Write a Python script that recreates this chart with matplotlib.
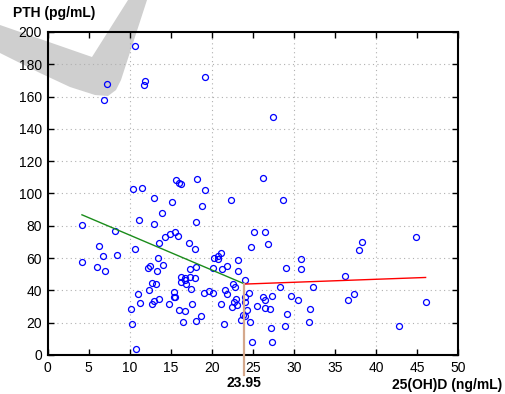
import matplotlib
matplotlib.use('Agg')
from matplotlib import pyplot as plt

plt.rcParams['font.family'] = ['Liberation Sans', 'DejaVu Sans']

# 25(OH)D (ng/mL) vs PTH (pg/mL)
vitd = [10.6, 7.18, 6.9, 11.9, 11.77, 19.2, 27.48, 10.39, 11.49, 15.58,
        15.99, 16.3, 18.18, 19.2, 26.26, 12.99, 15.18, 18.79, 22.36, 28.69,
        13.88, 11.08, 12.9, 18.02, 4.18, 8.2, 14.25, 14.89, 15.5, 15.9,
        13.6, 17.2, 18.0, 25.2, 26.5, 24.8, 26.9, 6.2, 6.7, 8.48,
        4.18, 6.0, 7.02, 10.6, 13.5, 12.18, 12.5, 13.27, 14.08, 12.7,
        12.38, 13.19, 13.6, 12.99, 12.7, 11.0, 11.24, 10.1, 10.27, 10.8,
        14.77, 15.34, 15.42, 15.5, 16.0, 16.68, 16.5, 16.23, 16.23, 16.72,
        16.84, 17.4, 17.3, 17.98, 18.1, 17.5, 17.58, 18.1, 18.67, 19.08,
        19.68, 20.2, 20.1, 20.3, 20.7, 20.74, 21.1, 21.3, 21.8, 23.2,
        23.2, 22.57, 22.8, 21.6, 21.9, 21.1, 21.5, 22.5, 22.7, 23.0,
        23.1, 23.99, 23.99, 24.1, 24.5, 24.27, 23.86, 24.0, 23.58, 24.6,
        24.9, 25.5, 26.26, 26.46, 27.4, 26.5, 27.1, 28.37, 27.19, 27.4,
        28.9, 29.18, 29.1, 29.7, 30.48, 30.9, 30.9, 32.39, 31.98, 31.86,
        36.28, 36.65, 37.38, 37.95, 38.27, 44.85, 46.06, 42.86, 16.7]
pth = [191.1, 167.8, 157.7, 169.9, 167.2, 172.2, 147.6, 102.9, 103.5, 108.5,
       106.4, 106.0, 108.9, 102.3, 109.7, 97.1, 94.6, 92.2, 95.7, 96.1,
       88.2, 83.7, 81.4, 82.5, 80.4, 76.7, 73.2, 75.1, 76.1, 73.6,
       69.1, 69.3, 65.6, 76.3, 76.3, 66.8, 68.9, 67.4, 61.4, 62.1,
       57.7, 54.6, 52.0, 65.8, 60.0, 53.8, 54.8, 52.2, 55.7, 44.3,
       40.4, 43.7, 34.6, 33.4, 31.5, 37.9, 32.0, 28.7, 19.4, 3.5,
       31.8, 39.0, 36.2, 35.6, 27.6, 27.4, 20.6, 48.2, 45.2, 46.4,
       43.9, 48.2, 53.2, 47.4, 54.6, 41.0, 31.3, 21.2, 24.3, 38.1,
       39.6, 38.1, 54.0, 60.2, 61.2, 59.6, 63.3, 53.2, 55.3, 59.0,
       52.2, 44.1, 42.3, 40.0, 37.7, 31.8, 19.0, 29.9, 33.0, 34.4,
       30.7, 46.4, 32.8, 36.1, 38.1, 28.0, 24.9, 24.3, 21.6, 20.4,
       8.2, 30.3, 35.7, 34.2, 36.5, 28.9, 28.5, 41.9, 16.9, 8.2,
       17.7, 25.4, 53.8, 36.7, 34.0, 59.6, 53.2, 42.1, 28.7, 20.2,
       48.9, 34.0, 37.9, 65.2, 69.9, 73.0, 32.8, 17.9, 47.4]

# segmented regression
breakpoint = 23.95
green_x = [4.18, breakpoint]
green_y = [86.8, 44.1]
red_x = [breakpoint, 46.06]
red_y = [43.9, 48.0]

fig = plt.figure(figsize=(5.06, 3.94), dpi=100)

# background axes in pixel units for the grey check-mark watermark
bg = fig.add_axes([0, 0, 1, 1], zorder=-5)
bg.set_xlim(0, 506)
bg.set_ylim(394, 0)
bg.axis('off')
mark_x = [0, 92, 128, 147, 121, 116, 108, 95, 70, 40, 0]
mark_y = [25, 57, 0, 0, 80, 90, 96, 95, 87, 73, 53]
bg.fill(mark_x, mark_y, color='#cfcfcf', lw=0)

ax = fig.add_axes([0.0942, 0.099, 0.8108, 0.8198])
ax.patch.set_visible(False)

for gx in [10, 20, 30, 40]:
    ax.axvline(gx, color='#b0b0b0', linestyle=(0, (1, 3)), linewidth=0.8, zorder=1)
for gy in range(20, 200, 20):
    ax.axhline(gy, color='#b0b0b0', linestyle=(0, (1, 3)), linewidth=0.8, zorder=1)

ax.plot(vitd, pth, 'o', mfc='none', mec='#0000ff', ms=4.3, mew=0.9, zorder=3)
ax.plot(green_x, green_y, color='#1a8c1a', lw=1.0, zorder=4)
ax.plot(red_x, red_y, color='#ff0000', lw=1.0, zorder=4)
ax.plot([breakpoint, breakpoint], [green_y[1], -12.5], color='#d4a88c', lw=1.6,
        clip_on=False, zorder=4)

ax.set_xlim(0, 50)
ax.set_ylim(0, 200)
ax.set_xticks(range(0, 51, 5))
ax.set_yticks(range(0, 201, 20))
ax.tick_params(direction='in', length=4, width=1, top=True, right=True,
               labelsize=10, colors='black', pad=4)
for s in ax.spines.values():
    s.set_linewidth(1.5)

fig.text(13 / 506, 1 - 13 / 394, 'PTH (pg/mL)', fontsize=10, fontweight='bold',
         ha='left', va='center')
fig.text(502 / 506, 1 - 385 / 394, '25(OH)D (ng/mL)', fontsize=10,
         fontweight='bold', ha='right', va='center')
fig.text(243.7 / 506, 1 - 383 / 394, '{:.2f}'.format(breakpoint), fontsize=10,
         fontweight='bold', ha='center', va='center')

plt.savefig('out.png', dpi=100)
